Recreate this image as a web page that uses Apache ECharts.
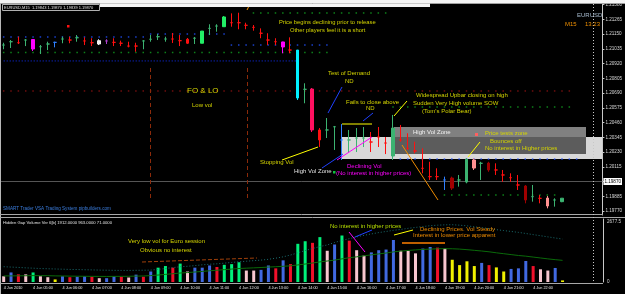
<!DOCTYPE html>
<html><head><meta charset="utf-8">
<script src="https://cdn.jsdelivr.net/npm/echarts@6/dist/echarts.min.js"></script>
<style>html,body{margin:0;padding:0;background:#000;}#c{width:625px;height:294px;}</style>
</head><body><div id="c"></div>
<script>
// ---- categories (15-minute bars, 4 Jun 2010) + empty right shift slots
const times = ['04:00','04:15','04:30','04:45','05:00','05:15','05:30','05:45','06:00','06:15','06:30','06:45',
'07:00','07:15','07:30','07:45','08:00','08:15','08:30','08:45','09:00','09:15','09:30','09:45',
'10:00','10:15','10:30','10:45','11:00','11:15','11:30','11:45','12:00','12:15','12:30','12:45',
'13:00','13:15','13:30','13:45','14:00','14:15','14:30','14:45','15:00','15:15','15:30','15:45',
'16:00','16:15','16:30','16:45','17:00','17:15','17:30','17:45','18:00','18:15','18:30','18:45',
'19:00','19:15','19:30','19:45','20:00','20:15','20:30','20:45','21:00','21:15','21:30','21:45',
'22:00','22:15','22:30','22:45','23:00','23:15','23:30','23:45','00:00','00:15'];

// ---- price bars
const opens = [1.21064,1.21090,1.21082,1.21103,1.21107,1.21051,1.21072,1.21085,1.21111,1.21103,1.21121,1.21096,1.21082,1.21072,1.21096,1.21085,1.21078,1.21056,1.21056,1.21096,
1.21109,1.21129,1.21111,1.21111,1.21098,1.21109,1.21117,1.21078,1.21194,1.21212,1.21207,1.21238,1.21238,1.21218,1.21202,1.21156,1.21103,1.21090,1.21088,1.21025,
1.21025,1.20719,1.20721,1.20402,1.20402,1.20427,1.20324,1.20324,1.20339,1.20339,1.20308,1.20347,1.20300,1.20199,1.20324,1.20259,1.20238,1.20103,1.20038,1.20038,
1.20012,1.20027,1.20012,1.19996,1.20168,1.20142,1.20144,1.20090,1.20051,1.20030,1.19973,1.19965,1.19882,1.19869,1.19871,1.19856,1.19843];
const closes = [1.21064,1.21090,1.21082,1.21103,1.21033,1.21051,1.21072,1.21085,1.21111,1.21103,1.21121,1.21096,1.21082,1.21098,1.21096,1.21085,1.21078,1.21056,1.21056,1.21096,
1.21109,1.21129,1.21111,1.21111,1.21098,1.21078,1.21117,1.21173,1.21194,1.21212,1.21283,1.21238,1.21238,1.21218,1.21202,1.21156,1.21103,1.21090,1.21049,1.21025,
1.20651,1.20719,1.20402,1.20324,1.20402,1.20427,1.20324,1.20324,1.20339,1.20339,1.20308,1.20347,1.20300,1.20417,1.20324,1.20259,1.20238,1.20103,1.20038,1.20038,
1.20012,1.19949,1.20012,1.20173,1.20105,1.20142,1.20090,1.20090,1.20051,1.20030,1.19973,1.19856,1.19882,1.19869,1.19809,1.19856,1.19870];
const lows = [1.21031,1.21041,1.21072,1.21056,1.21018,1.20994,1.21025,1.21046,1.21078,1.21078,1.21090,1.21064,1.21056,1.21064,1.21072,1.21056,1.21056,1.21046,1.21012,1.21031,
1.21090,1.21103,1.21090,1.21080,1.21056,1.21072,1.21072,1.21078,1.21142,1.21168,1.21207,1.21207,1.21187,1.21187,1.21176,1.21117,1.21064,1.21064,1.21000,1.21000,
1.20636,1.20610,1.20386,1.20269,1.20339,1.20246,1.20168,1.20222,1.20230,1.20269,1.20230,1.20269,1.20214,1.20168,1.20310,1.20246,1.20220,1.20064,1.20012,1.20012,
1.19934,1.19934,1.19960,1.19986,1.20090,1.20012,1.20076,1.20051,1.19998,1.19998,1.19934,1.19830,1.19843,1.19830,1.19791,1.19804,1.19839];
const highs = [1.21082,1.21103,1.21129,1.21111,1.21111,1.21064,1.21090,1.21090,1.21129,1.21129,1.21142,1.21124,1.21117,1.21109,1.21109,1.21117,1.21098,1.21090,1.21082,1.21103,
1.21142,1.21150,1.21129,1.21158,1.21142,1.21119,1.21127,1.21173,1.21226,1.21226,1.21290,1.21311,1.21316,1.21238,1.21220,1.21194,1.21156,1.21117,1.21090,1.21124,
1.21025,1.20766,1.20729,1.20417,1.20495,1.20433,1.20448,1.20402,1.20417,1.20425,1.20386,1.20425,1.20347,1.20519,1.20441,1.20376,1.20310,1.20259,1.20154,1.20103,
1.20038,1.20038,1.20051,1.20181,1.20181,1.20154,1.20154,1.20142,1.20090,1.20064,1.20051,1.19973,1.19973,1.19895,1.19887,1.19869,1.19870];
// VSA bar colour codes
const barColors = ['G','G','R','G','M','G','G','B','G','R','G','R','R','W','P','R','R','R','R','G',
'G','G','G','R','R','R','G','L','G','G','L','R','R','R','R','R','R','R','M','R',
'C','G','X','R','G','G','B','G','G','G','R','R','R','G','R','R','R','R','R','R',
'B','D','G','G','K','G','D','R','R','R','R','D','G','R','K','G','G'];

// ---- volume panel
const volumes = [255,425,340,340,425,255,213,115,255,213,234,255,234,170,170,255,234,200,327,234,
468,638,710,638,820,468,638,638,735,667,765,795,880,510,510,540,735,608,965,795,
1700,1815,1743,1998,1390,1670,2070,1840,1415,1177,1318,1415,1445,1870,1390,1390,1275,1488,1560,1530,
1488,990,752,922,710,850,752,650,468,582,608,935,710,565,510,625,71];
const volColors = ['P','B','R','P','G','P','P','Y','B','R','B','B','R','P','B','B','R','P','B','R',
'B','G','G','R','G','P','B','B','B','R','G','G','G','P','P','B','B','R','B','R',
'G','G','R','G','P','B','G','R','P','P','B','B','B','B','P','P','P','B','B','R',
'P','Y','Y','Y','Y','B','R','Y','Y','B','B','B','R','P','P','B','Y'];
const volAverage = [270,272,275,278,285,282,280,272,268,262,258,255,252,250,248,250,252,255,262,268,
285,310,340,368,400,420,445,470,500,525,550,575,600,615,630,645,665,680,700,720,
760,800,845,895,935,975,1030,1080,1120,1165,1210,1250,1290,1340,1375,1405,1430,1450,1465,1478,
1485,1480,1465,1440,1410,1380,1345,1300,1260,1220,1180,1150,1110,1070,1030,995,963];
const volBand = [680,665,650,630,615,600,590,580,570,560,555,545,540,530,525,520,515,515,520,525,
530,560,600,640,680,700,730,765,790,810,840,870,900,925,950,975,1010,1060,1120,1200,
1300,1400,1490,1580,1650,1760,1850,1930,2010,2080,2140,2200,2250,2300,2340,2390,2430,2470,2505,2530,
2545,2550,2530,2500,2460,2420,2380,2330,2290,2250,2210,2160,2110,2060,2010,1960,1912];

// ---- axis tick labels
const priceTicks = [1.19770,1.19885,1.20000,1.20115,1.20230,1.20345,1.20460,1.20575,1.20690,1.20805,1.20920,1.21035,1.21150,1.21265,1.21380];
const volTicks = [0, 2677.5];
const lastPrice = 1.19870;

// ---- indicator level dots: [fromIndex, toIndex, price]
const blueDots = [[0,19,1.21127],[20,30,1.21150],[31,44,1.21064]];
const greenDots = [[0,44,1.21006],[34,52,1.21314],[53,77,1.20581],[60,75,1.19895]];
const redDots = [[0,77,1.20706]];
const blueDots2 = [[54,78,1.20175]];
const blueDenseLevel = [[0,40,1.20940]];

const colorMap = {G:'#3cb371',L:'#22ee66',R:'#ff1010',M:'#ff00ff',B:'#2f7fff',W:'#f0f0f0',P:'#b040d0',C:'#00f0ff',X:'#ff1060',D:'#a00000',K:'#ff9090'};
const volColorMap = {P:'#f7c6cf',B:'#4169e1',R:'#f0102a',G:'#00f07a',Y:'#f0f000'};

const candleData = opens.map((o,i)=>{
  const c = colorMap[barColors[i]];
  return {value:[o,closes[i],lows[i],highs[i]], itemStyle:{color:c,color0:c,borderColor:c,borderColor0:c,borderWidth:1}};
});
const volData = volumes.map((v,i)=>({value:v,itemStyle:{color:volColorMap[volColors[i]]}}));
function dots(segs){const out=[];segs.forEach(s=>{for(let i=s[0];i<=s[1];i++)out.push([i,s[2]]);});return out;}

const FONT = 'Liberation Sans, Arial, sans-serif';
const YEL = '#d4d400', ORG='#f08c00';
function txt(x,y,t,fill,size){return {type:'text',x:x,y:y,z:40,style:{text:t,fill:fill,font:(size||6)+'px '+FONT,textVerticalAlign:'middle'}};}
function ln(x1,y1,x2,y2,col,w,dash){return {type:'line',z:20,shape:{x1:x1,y1:y1,x2:x2,y2:y2},style:{stroke:col,lineWidth:w||1,lineDash:dash||null}};}
function rc(x,y,w,h,col,z){return {type:'rect',z:z||0,shape:{x:x,y:y,width:w,height:h},style:{fill:col}};}

const chart = echarts.init(document.getElementById('c'),null,{renderer:'canvas'});
chart.setOption({
  backgroundColor:'#000',
  animation:false,
  grid:[{left:0,top:4,width:603,height:211},{left:0,top:219,width:603,height:63}],
  xAxis:[
    {type:'category',gridIndex:0,data:times,boundaryGap:true,axisLine:{show:false},axisTick:{show:false},axisLabel:{show:false},splitLine:{show:false}},
    {type:'category',gridIndex:1,data:times,boundaryGap:true,axisLine:{show:false},axisTick:{show:false},
     axisLabel:{color:'#e8e8e8',fontSize:3.8,fontFamily:FONT,align:'left',margin:4,showMinLabel:true,showMaxLabel:false,hideOverlap:false,
       interval:(i)=>i%4===0&&i<=76,
       formatter:(v,i)=>i===0?'4 Jun 2010':'4 Jun '+v},splitLine:{show:false}}
  ],
  yAxis:[
    {type:'value',gridIndex:0,position:'right',min:1.19739,max:1.21384,
     axisLine:{show:true,lineStyle:{color:'#c8c8c8'}},axisTick:{show:true,length:2,lineStyle:{color:'#c8c8c8'},customValues:priceTicks},
     axisLabel:{color:'#d8d8d8',fontSize:4.6,fontFamily:FONT,margin:3,customValues:priceTicks,formatter:v=>v.toFixed(5)},splitLine:{show:false}},
    {type:'value',gridIndex:1,position:'right',min:0,max:2805,
     axisLine:{show:true,lineStyle:{color:'#c8c8c8'}},axisTick:{show:false},
     axisLabel:{color:'#d8d8d8',fontSize:4.6,fontFamily:FONT,margin:4,customValues:volTicks,formatter:v=>v===0?'0':v.toFixed(1)},splitLine:{show:false}}
  ],
  series:[
    {type:'line',xAxisIndex:0,yAxisIndex:0,data:dots(blueDenseLevel).filter((d,i,a)=>i===0||i===a.length-1),symbol:'none',z:1,
     lineStyle:{color:'#1030ff',width:1,type:[1,2]}},
    {type:'scatter',xAxisIndex:0,yAxisIndex:0,data:dots(blueDots),symbol:'rect',symbolSize:1.5,itemStyle:{color:'#2050ff'},z:1},
    {type:'scatter',xAxisIndex:0,yAxisIndex:0,data:dots(greenDots),symbol:'rect',symbolSize:1.5,itemStyle:{color:'#10a020'},z:1},
    {type:'scatter',xAxisIndex:0,yAxisIndex:0,data:dots(redDots),symbol:'rect',symbolSize:1.5,itemStyle:{color:'#8b1010'},z:1},
    {type:'scatter',xAxisIndex:0,yAxisIndex:0,data:dots(blueDots2),symbol:'rect',symbolSize:1.5,itemStyle:{color:'#2050ff'},z:1},
    {type:'candlestick',xAxisIndex:0,yAxisIndex:0,data:candleData,barWidth:3,z:5,
     markLine:{silent:true,symbol:'none',z:1,lineStyle:{color:'#555',type:'solid',width:1},
       label:{position:'end',distance:1,color:'#000',backgroundColor:'#fff',fontSize:4.6,fontFamily:FONT,padding:[1,1],formatter:()=>lastPrice.toFixed(5)},
       data:[{yAxis:lastPrice}]}},
    {type:'bar',xAxisIndex:1,yAxisIndex:1,data:volData,barWidth:3,z:3},
    {type:'line',xAxisIndex:1,yAxisIndex:1,data:volAverage,symbol:'none',z:4,lineStyle:{color:'#0a6a0a',width:1}},
    {type:'line',xAxisIndex:1,yAxisIndex:1,data:volBand,symbol:'none',z:4,lineStyle:{color:'#1a6e70',width:1,type:[1,2]}}
  ],
  graphic:[
    // window frame
    rc(0,0,625,3,'#f4f4f4',30), ln(0,3.5,625,3.5,'#a0a0a0',1),
    rc(100,3.5,330,3.5,'#f4f4f4',30),
    ln(0.5,3,0.5,294,'#b8b8b8',1),
    ln(0,214.5,603,214.5,'#a8a8a8',1), ln(0,217.5,625,217.5,'#a8a8a8',1),
    ln(0,283.5,603,283.5,'#a8a8a8',1),
    // header box
    rc(2,4,98,7,'#000',25),
    {type:'rect',z:26,shape:{x:2.5,y:4.5,width:97,height:6},style:{fill:'none',stroke:'#b0b0b0',lineWidth:1}},
    txt(4,7.5,'EURUSD,M15  1.19843 1.19870 1.19839 1.19870','#e0e0e0',4),
    // zones
    rc(342,137,261,22,'#d8d8d8',0),
    rc(394,127,192,10,'#808080',0),
    rc(394,137,192,17,'#5c5c5c',0),
    // chart shift line
    ln(593.5,4,593.5,283,'#c8c8c8',1,[1,2]),
    // session separators
    ln(150.5,68,150.5,200,'#8b2a0a',1,[4,3]), ln(247.5,68,247.5,200,'#8b2a0a',1,[4,3]),
    ln(247,10,250,4,ORG,1),
    {type:'rect',z:20,shape:{x:67,y:25,width:2.5,height:2.5},style:{fill:'#ff1010'}},
    {type:'rect',z:20,shape:{x:475,y:133,width:3,height:3},style:{fill:'#ff6060'}},
    {type:'rect',z:20,shape:{x:333,y:171,width:2.5,height:2.5},style:{fill:'#10c040'}},
    // price annotations
    txt(279,22,'Price begins declining prior to release',YEL,5.8),
    txt(290,30,'Other players feel it is a short',YEL,5.8),
    txt(577,15,'EURUSD','#a8bcd0',6),
    txt(565,24,'M15','#f09000',6), txt(585,24,'13:23','#f09000',6),
    txt(187,91,'FO & LO',YEL,8),
    txt(192,105,'Low vol',YEL),
    txt(328,73,'Test of Demand',YEL), txt(345,81,'ND',YEL),
    ln(342,87,328,113,'#2040ff',1),
    txt(346,102,'Fails to close above',YEL), txt(366,108,'ND',YEL),
    ln(373,113,363,121,'#2040ff',1),
    ln(342,124,372,124,'#ffff00',1),
    txt(260,162,'Stopping Vol',YEL),
    ln(282,160,318,147,'#ffff00',1),
    txt(294,171,'High Vol Zone','#e0e0e0'),
    ln(322,168,343,154,'#2040ff',1),
    txt(347,166,'Declining Vol','#ff00ff'),
    txt(336,173,'(No interest in higher prices)','#ff00ff'),
    ln(337,160,372,137,'#ff00ff',1),
    txt(416,95,'Widespread Upbar closing on high',YEL),
    txt(413,103,'Sudden Very High volume',YEL), txt(484,103,'SOW',YEL),
    txt(422,111,"(Tom's Polar Bear)",YEL),
    ln(394,116,407,101,'#ffff00',1),
    txt(413,132,'High Vol Zone','#f0f0f0'),
    txt(485,133,'Price tests zone',YEL),
    txt(490,141,'Bounces off',YEL),
    txt(485,148,'No interest in Higher prices',YEL),
    ln(468,157,480,142,'#ffff00',1),
    ln(402,145,438,200,ORG,1),
    txt(3,209,'SMART Trader VSA Trading System pipbuilders.com','#3b7ddd',4.6),
    // volume annotations
    txt(3,223,'Hidden Gap Volume Ver 6[b] 1912.0000 963.0000 71.0000','#e0e0e0',4.2),
    txt(128,241,'Very low vol for Euro session',YEL),
    txt(140,250,'Obvious no interest',YEL),
    ln(142,262,257,258,'#a0400a',1,[4,2]),
    txt(330,226,'No interest in higher prices','#b8e000'),
    ln(349,232,365,252,'#ff00ff',1),
    ln(355,237,372,230,'#2040ff',1),
    ln(394,235,413,230,'#ffff00',1),
    txt(420,229,'Declining Prices. Vol Steady',ORG),
    txt(413,235,'Interest in lower price apparent',ORG),
    ln(402,243,445,243,'#c06000',2)
  ]
});
</script></body></html>
